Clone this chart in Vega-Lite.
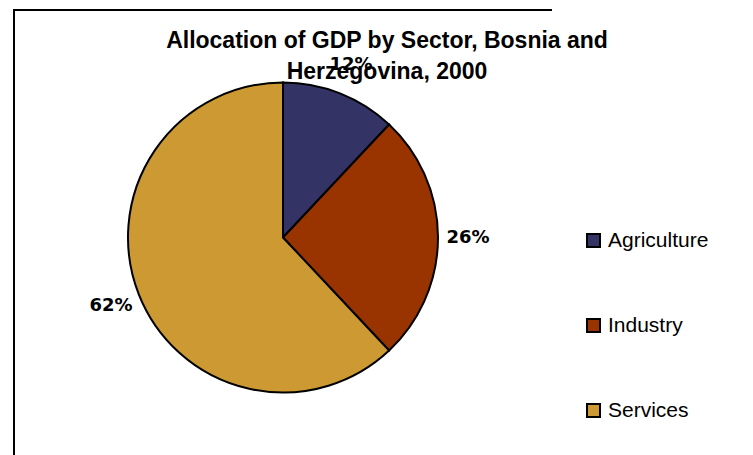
{
  "$schema": "https://vega.github.io/schema/vega-lite/v6.json",
  "autosize": "none",
  "width": 538,
  "height": 455,
  "padding": {"left": 14, "top": 10, "right": 201, "bottom": 0},
  "background": "white",
  "view": {"stroke": "black", "strokeWidth": 2, "strokeDash": [538, 455, 3000]},
  "title": {
    "text": ["Allocation of GDP by Sector, Bosnia and", "Herzegovina, 2000"],
    "frame": "group",
    "anchor": "middle",
    "dx": 104,
    "dy": 55,
    "offset": -37,
    "baseline": "alphabetic",
    "font": "Liberation Sans",
    "fontSize": 23,
    "fontWeight": "bold",
    "color": "black",
    "lineHeight": 31
  },
  "data": {
    "values": [
      {"sector": "Agriculture", "share": 0.12},
      {"sector": "Industry", "share": 0.26},
      {"sector": "Services", "share": 0.62}
    ]
  },
  "encoding": {
    "theta": {"field": "share", "type": "quantitative", "stack": true},
    "color": {
      "field": "sector",
      "type": "nominal",
      "scale": {"domain": ["Agriculture", "Industry", "Services"], "range": ["#333366", "#993300", "#CC9933"]},
      "legend": {
        "title": null,
        "orient": "none",
        "legendX": 569,
        "legendY": 220,
        "padding": 0,
        "symbolType": "square",
        "symbolSize": 169,
        "symbolStrokeColor": "black",
        "symbolStrokeWidth": 2,
        "labelFont": "Liberation Sans",
        "labelFontSize": 21,
        "labelColor": "black",
        "labelOffset": 4,
        "rowPadding": 63
      }
    }
  },
  "layer": [
    {
      "mark": {"type": "arc", "outerRadius": 155, "stroke": "black", "strokeWidth": 2}
    },
    {
      "mark": {"type": "text", "radius": 185, "font": "DejaVu Sans", "fontSize": 18, "fontWeight": "bold", "align": "center", "baseline": "middle", "fill": "black"},
      "encoding": {
        "text": {"field": "share", "type": "quantitative", "format": ".0%"},
        "color": {"value": "black"}
      }
    }
  ]
}
